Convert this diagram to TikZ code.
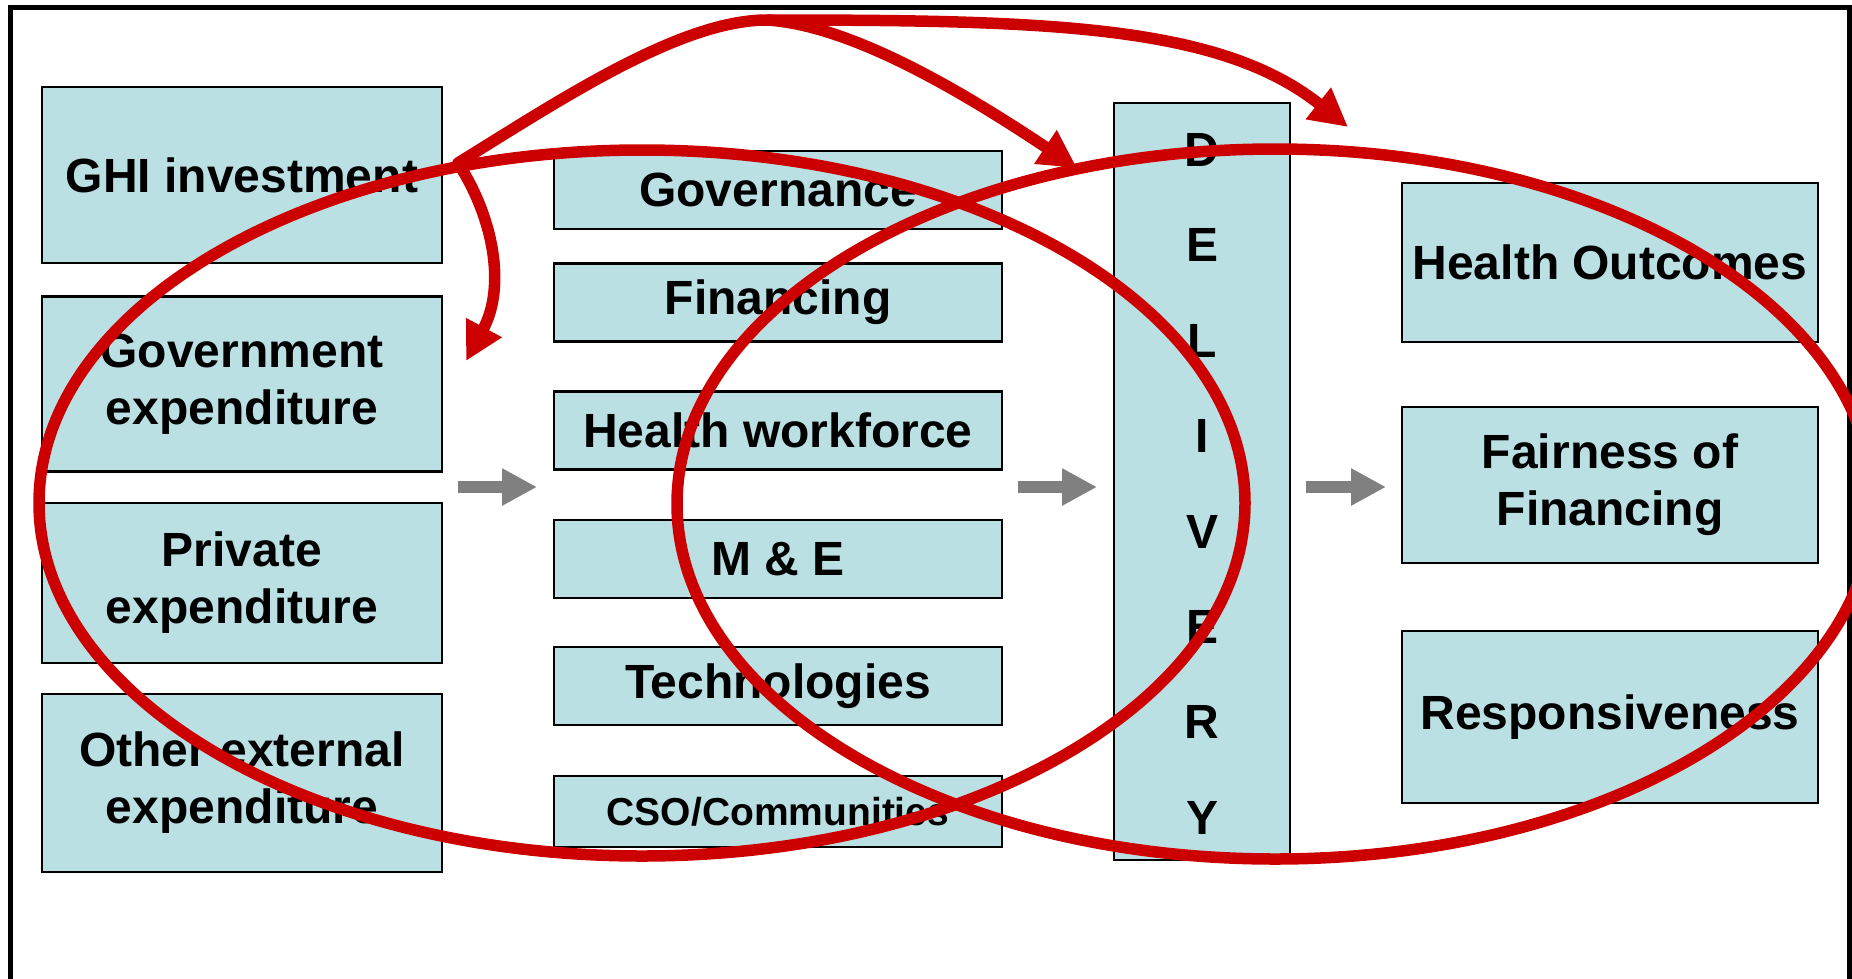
\documentclass[tikz,border=0pt]{standalone}
\usepackage{fontspec}
\setmainfont{Liberation Sans}
\usetikzlibrary{arrows.meta}
\definecolor{boxfill}{HTML}{BAE0E3}
\definecolor{redline}{HTML}{CC0000}
\definecolor{grayarrow}{HTML}{808080}
\begin{document}
\begin{tikzpicture}[x=1pt,y=-1pt,
  box/.style={draw=black,line width=2.5pt,fill=boxfill,inner sep=0pt,align=center,
    font=\fontsize{48}{57}\selectfont\bfseries},
  col1/.style={box,minimum width=400pt},
  col2/.style={box,minimum width=448pt,minimum height=78pt},
  col4/.style={box,minimum width=416pt},
  letter/.style={font=\fontsize{48}{57}\selectfont\bfseries,inner sep=0pt},
  grayarr/.style={draw=grayarrow,line width=12pt,-{Triangle[length=35pt,width=35pt]}},
  redarr/.style={draw=redline,line width=11.5pt,-{Triangle[length=38pt,width=38pt]}},
  redring/.style={draw=redline,line width=11.5pt}]
\useasboundingbox (0,0) rectangle (1852,978);
% frame
\draw[line width=5pt] (10,1000) -- (10,7) -- (1849,7) -- (1849,1000);
% column 1
\node[col1,minimum height=176pt] (ghi) at (242,175) {GHI investment};
\node[col1,minimum height=175pt] (gov) at (242,384) {Government\\expenditure};
\node[col1,minimum height=160pt] (priv) at (242,583) {Private\\expenditure};
\node[col1,minimum height=178pt] (other) at (242,783) {Other external\\expenditure};
% column 2
\node[col2] (gn) at (778,190) {Governance};
\node[col2] (fin) at (778,302.5) {Financing};
\node[col2] (hw) at (778,430.5) {Health workforce};
\node[col2] (me) at (778,559) {M \& E};
\node[col2] (tech) at (778,686) {Technologies};
\node[col2,minimum height=71pt,font=\fontsize{39}{46}\selectfont\bfseries] (cso) at (778,811.5) {CSO/Communities};
% delivery
\node[box,minimum width=176pt,minimum height=757pt] (del) at (1202,481.5) {};
\foreach \l [count=\i] in {D,E,L,I,V,E,R,Y}
  \node[letter] (L\i) at (1202,{150+(\i-1)*95.4}) {\l};
% column 4
\node[col4,minimum height=159pt] (ho) at (1610,262.5) {Health Outcomes};
\node[col4,minimum height=156pt] (ff) at (1610,485) {Fairness of\\Financing};
\node[col4,minimum height=172pt] (resp) at (1610,717) {Responsiveness};
% gray arrows
\coordinate (g1a) at (458,487); \coordinate (g1b) at (537,487);
\coordinate (g2a) at (1018,487); \coordinate (g2b) at (1097,487);
\coordinate (g3a) at (1306,487); \coordinate (g3b) at (1386,487);
\draw[grayarr] (g1a) -- (g1b);
\draw[grayarr] (g2a) -- (g2b);
\draw[grayarr] (g3a) -- (g3b);
% red ellipses
\draw[redring] (642,503) ellipse [x radius=603pt, y radius=353pt];
\draw[redring] (1275,504) ellipse [x radius=598pt, y radius=355pt];
% red arrows
\coordinate (rs) at (458,163);
\coordinate (rp) at (767,20);
\coordinate (rt1) at (1348,127);
\coordinate (rt2) at (1077,168);
\coordinate (rt3) at (466,361);
\draw[redline,line width=11.5pt,line cap=round] (rs) .. controls (560,100) and (680,20) .. (rp);
\draw[redarr] (rp) .. controls (1050,20) and (1220,25) .. (rt1);
\draw[redarr] (rp) .. controls (850,25) and (960,90) .. (rt2);
\draw[redarr] (rs) .. controls (492,215) and (507,285) .. (rt3);
\end{tikzpicture}
\end{document}
